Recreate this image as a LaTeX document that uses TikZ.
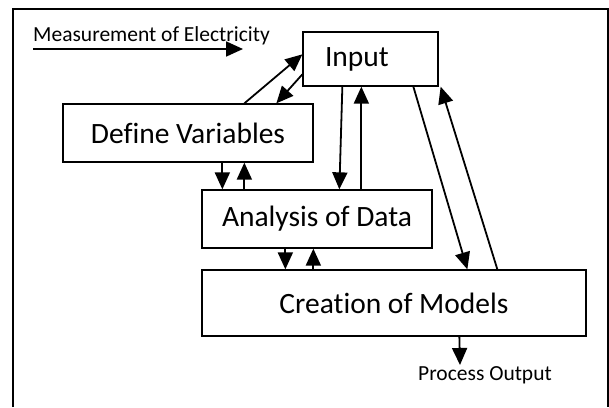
\documentclass[tikz,border=0pt]{standalone}
\usepackage{fontspec}
\setmainfont{Carlito}[Ligatures=CommonOff]
\usetikzlibrary{arrows.meta}
\tikzstyle{processbox} = [draw, line width=1.3pt, rectangle, inner sep=0pt, font=\fontsize{29.5}{34}\selectfont]
\tikzstyle{note} = [inner sep=0pt, font=\fontsize{21.5}{25}\selectfont]
\tikzstyle{flowchartarrow} = [line width=1.8pt, -{Triangle[length=17pt,width=15pt]}]

\begin{document}
\begin{tikzpicture}[x=1pt,y=-1pt]
		\useasboundingbox (0,0) rectangle (609,407);
		\draw [line width=1.3pt] (13,407) -- (13,9) -- (608,9) -- (608,407);
		\node (measure) [note, anchor=base west] at (33,41) {Measurement of Electricity};
		\coordinate (measstart) at (33,49);
		\coordinate (measend) at (243,49);
		\node (input) [processbox, minimum width=135pt, minimum height=54pt, text width=91pt, align=left] at (370.5,59) {\raisebox{-3pt}{Input}};
		\node (define) [processbox, minimum width=250pt, minimum height=58pt] at (188,133) {Define Variables};
		\node (analysis) [processbox, minimum width=230pt, minimum height=58pt] at (317,219) {Analysis of Data};
		\node (creation) [processbox, minimum width=384pt, minimum height=66pt] at (394,303) {Creation of Models};
		\node (output) [note] at (485,375) {Process Output};
		\coordinate (outtip) at (460,365);
		\draw [flowchartarrow] (measstart) -- (measend);
		\draw [flowchartarrow] ([xshift=182pt]define.north west) -- ([yshift=-23pt]input.north west);
		\draw [flowchartarrow] ([yshift=-43pt]input.north west) -- ([xshift=214pt]define.north west);
		\draw [flowchartarrow] ([xshift=160pt]define.south west) -- ([xshift=21pt]analysis.north west);
		\draw [flowchartarrow] ([xshift=43pt]analysis.north west) -- ([xshift=182pt]define.south west);
		\draw [flowchartarrow] ([xshift=40pt]input.south west) -- ([xshift=138pt]analysis.north west);
		\draw [flowchartarrow] ([xshift=160pt]analysis.north west) -- ([xshift=59pt]input.south west);
		\draw [flowchartarrow] ([xshift=84pt]analysis.south west) -- ([xshift=84pt]creation.north west);
		\draw [flowchartarrow] ([xshift=112pt]creation.north west) -- ([xshift=112pt]analysis.south west);
		\draw [flowchartarrow] ([xshift=111pt]input.south west) -- ([xshift=266pt]creation.north west);
		\draw [flowchartarrow] ([xshift=296pt]creation.north west) -- ([xshift=2pt]input.south east);
		\draw [flowchartarrow] ([xshift=258pt]creation.south west) -- (outtip);
	\end{tikzpicture}
\end{document}
